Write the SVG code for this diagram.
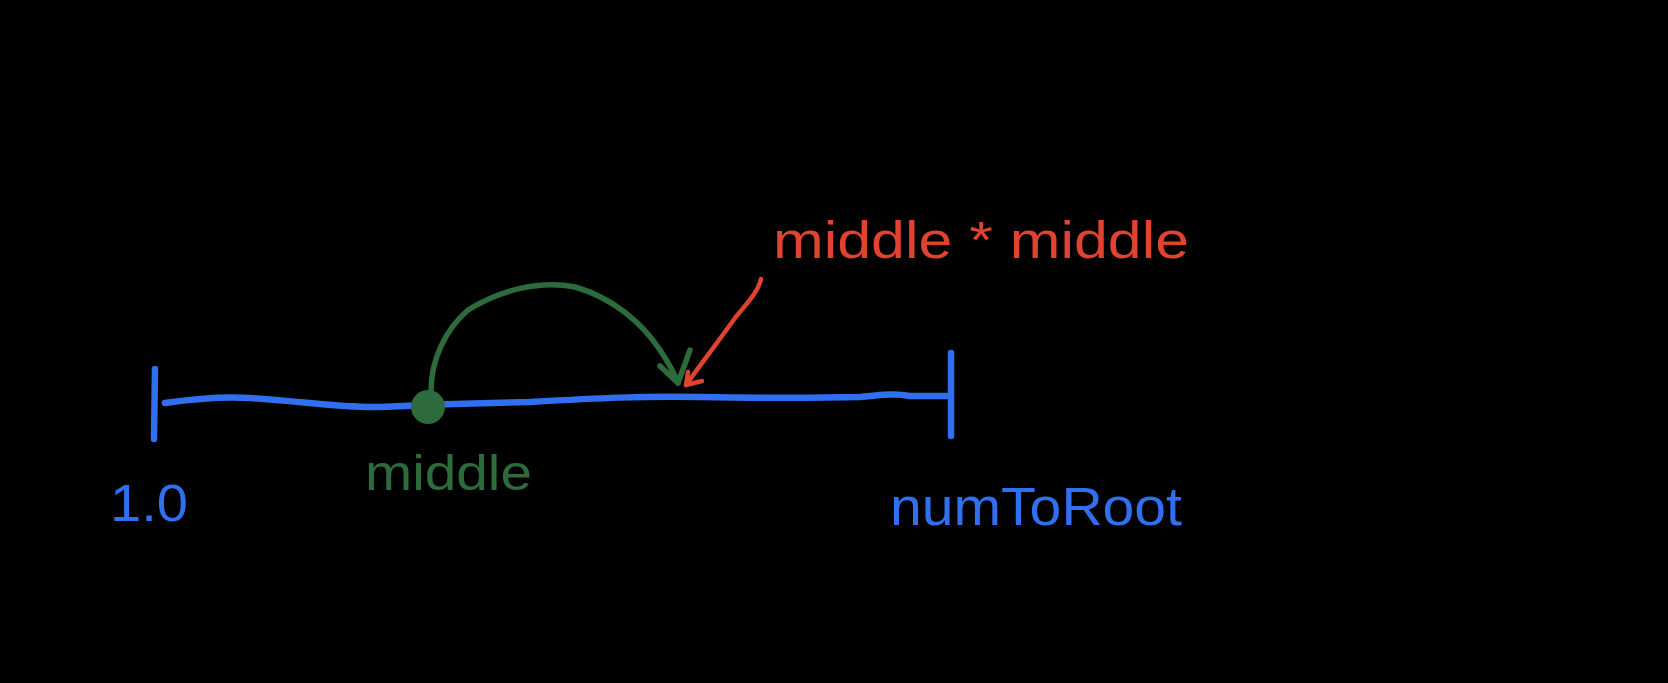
<svg xmlns="http://www.w3.org/2000/svg" width="1668" height="683" viewBox="0 0 1668 683">
<style>
.blue{stroke:#2f6ff0;fill:none;stroke-width:6.5;stroke-linecap:round;stroke-linejoin:round}
.green{stroke:#2d6b3c;fill:none;stroke-width:5.5;stroke-linecap:round;stroke-linejoin:round}
.red{stroke:#e0432f;fill:none;stroke-width:4.5;stroke-linecap:round;stroke-linejoin:round}
text{font-family:"Liberation Sans","DejaVu Sans",sans-serif}
.tb{fill:#2f6ff0}.tg{fill:#2d6b3c}.tr{fill:#e0432f}
</style>
<rect x="0" y="0" width="1668" height="683" fill="#000"/>
<g id="numberline">
<path class="blue" d="M155,369 L154,439"/>
<path class="blue" d="M165,403 C185,400 220,396 250,398 C300,401 340,408 380,407 C420,405 470,403 530,402 C600,398 640,396 700,397 C760,398 820,398 860,397 C880,395 895,393 910,396 L950,396"/>
<path class="blue" d="M951,353 L951,436"/>
</g>
<g id="middle-dot">
<ellipse cx="428" cy="407" rx="17" ry="17" fill="#2d6b3c"/>
</g>
<g id="connectors">
<path class="green" d="M431,391 C431,360 445,330 468,310 C500,290 540,280 575,287 C610,297 640,320 660,350 C670,365 675,375 678,383"/>
<path class="green" d="M660,366 L678,383 L690,350"/>
<path class="red" d="M761,279 C758,292 748,302 735,318 C718,342 700,365 686,385 L702,381"/>
<path class="red" d="M686,385 L688,372"/>
</g>
<g id="label-1">
<text class="tb" x="110" y="521" font-size="52" textLength="78" lengthAdjust="spacingAndGlyphs">1.0</text>
</g>
<g id="label-middle">
<text class="tg" x="365" y="490" font-size="50" textLength="167" lengthAdjust="spacingAndGlyphs">middle</text>
</g>
<g id="label-numToRoot">
<text class="tb" x="890" y="525" font-size="54" textLength="292" lengthAdjust="spacingAndGlyphs">numToRoot</text>
</g>
<g id="label-square">
<text class="tr" x="773" y="258" font-size="52" textLength="416" lengthAdjust="spacingAndGlyphs">middle * middle</text>
</g>
</svg>
